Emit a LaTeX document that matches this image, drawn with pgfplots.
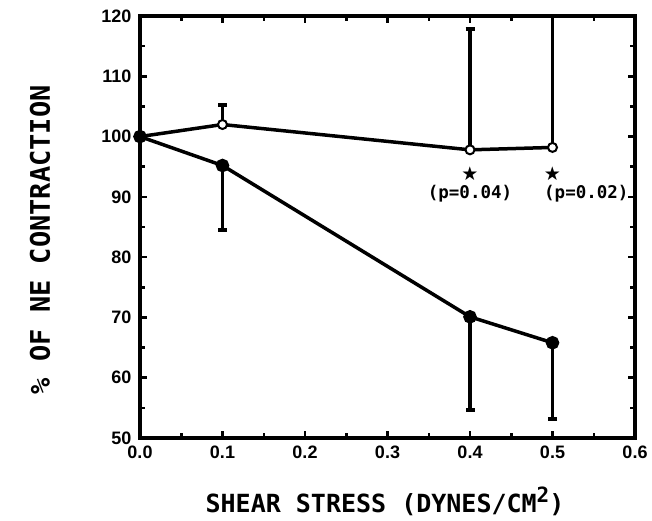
\documentclass[border=0pt]{standalone}
\usepackage{fontspec}
\setmainfont{Liberation Sans}
\newfontfamily\monob{DejaVu Sans Mono}
\newfontfamily\symf{DejaVu Sans}
\usepackage{pgfplots}
\pgfplotsset{compat=1.18}
\begin{document}
\begin{tikzpicture}[x=1pt,y=1pt]
\path[use as bounding box] (0,0) rectangle (652,520);
\begin{axis}[
  at={(140pt,82pt)}, anchor=south west,
  width=495pt, height=422pt, scale only axis,
  xmin=0, xmax=0.6, ymin=50, ymax=120,
  xtick={0,0.1,0.2,0.3,0.4,0.5,0.6},
  ytick={50,60,70,80,90,100,110,120},
  minor x tick num=1, minor y tick num=1,
  tick align=inside,
  major tick length=7pt, minor tick length=5pt,
  axis line style={line width=3.5pt},
  every tick/.style={line width=2.5pt, black},
  /pgf/number format/assume math mode=true,
  tick label style={font=\fontsize{18}{18}\selectfont\bfseries},
  xticklabel style={/pgf/number format/.cd, fixed, precision=1, fixed zerofill, /tikz/.cd, yshift=-4pt},
  yticklabel style={xshift=-5pt},
  xlabel={SHEAR STRESS (DYNES/CM\raisebox{0.4em}{\fontsize{21}{21}\selectfont 2})},
  ylabel={\% OF NE CONTRACTION},
  xlabel style={font=\monob\bfseries\fontsize{25}{25}\selectfont, at={(axis description cs:0.495,-0.15)}, anchor=center},
  ylabel style={font=\monob\bfseries\fontsize{27}{27}\selectfont, at={(axis description cs:-0.202,0.47)}, anchor=center},
  clip=true,
]
% error bars only
\addplot[draw=none, mark=none, forget plot,
  error bars/.cd, y dir=plus, y explicit,
  error bar style={line width=3.5pt, black},
  error mark options={rotate=90, mark size=4.5pt, line width=4pt, black}]
  coordinates {(0.1,102.0) +- (0,3.2) (0.4,97.8) +- (0,20.0) (0.5,98.2) +- (0,21.8)};
\addplot[draw=none, mark=none, forget plot,
  error bars/.cd, y dir=minus, y explicit,
  error bar style={line width=3.5pt, black},
  error mark options={rotate=90, mark size=4.5pt, line width=4pt, black}]
  coordinates {(0.1,95.2) +- (0,10.7) (0.4,70.1) +- (0,15.4) (0.5,65.8) +- (0,12.6)};
% lines
\addplot[black, line width=3.5pt, mark=*, mark size=4.5pt, mark options={fill=white, line width=2pt}]
  coordinates {(0,100) (0.1,102.0) (0.4,97.8) (0.5,98.2)};
\addplot[black, line width=3.5pt, mark=*, mark size=5pt, mark options={fill=black}]
  coordinates {(0,100) (0.1,95.2) (0.4,70.1) (0.5,65.8)};
% significance stars
\addplot[only marks, mark=text, text mark={\symf\fontsize{19}{19}\selectfont ★}]
  coordinates {(0.4,93.8) (0.5,93.8)};
\node[font=\monob\bfseries\fontsize{17.5}{17.5}\selectfont] at (axis cs:0.4,90.6) {(p=0.04)};
\node[font=\monob\bfseries\fontsize{17.5}{17.5}\selectfont] at (axis cs:0.541,90.6) {(p=0.02)};
\end{axis}
\end{tikzpicture}
\end{document}
